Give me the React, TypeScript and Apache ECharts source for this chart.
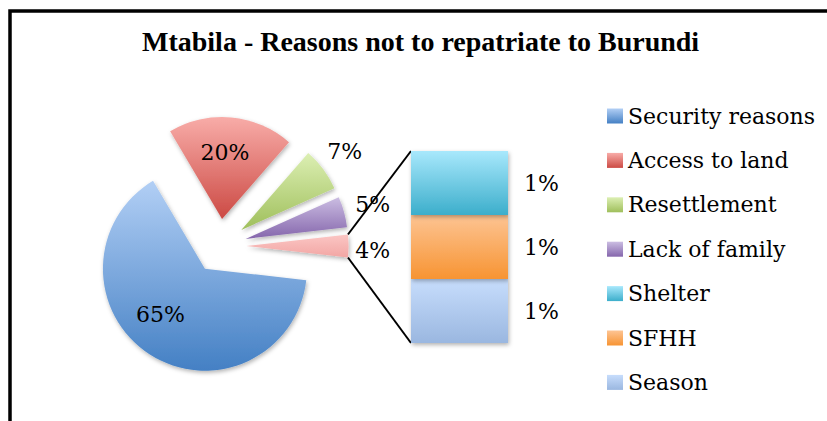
import React, { useEffect, useRef } from "react";
import * as echarts from "echarts";

// ---- data ----
const mainCategories = ["Security reasons", "Access to land", "Resettlement", "Lack of family"];
const mainValues = [64.7, 19.9, 6.9, 4.9];
const otherCategories = ["Shelter", "SFHH", "Season"];
const otherValues = [1.2, 1.2, 1.2];
const otherName = "Other";
const titleText = "Mtabila - Reasons not to repatriate to Burundi";

// ---- styles ----
const mainGradients: [string, string][] = [
  ["#b2cff5", "#4480c4"],
  ["#f8aca8", "#cc4a44"],
  ["#dcefb3", "#9fbf5b"],
  ["#cbbde2", "#8566ac"],
];
const otherSliceGradient: [string, string] = ["#fbc6c4", "#f2a6a4"];
const otherGradients: [string, string][] = [
  ["#a8e8fc", "#3caecb"],
  ["#fdc493", "#f79433"],
  ["#c7ddfc", "#9ab7e0"],
];
// label nudges for pie labels (dx, dy) in px
const pieLabelNudge: [number, number][] = [
  [-15, 1],
  [-2, -13],
  [60, -46],
  [75, -20],
  [72, 4],
];

const CX = 219.6;
const CY = 246;
const R = 102;
const OFFSET = 27;
const GRID_LEFT = 411;
const GRID_TOP = 151;
const GRID_W = 97;
const GRID_H = 192;
const SERIF = "DejaVu Serif";

const grad = (c: [string, string]) => ({
  type: "linear",
  x: 0,
  y: 0,
  x2: 0,
  y2: 1,
  colorStops: [
    { offset: 0, color: c[0] },
    { offset: 1, color: c[1] },
  ],
});

const shadow = {
  shadowBlur: 4,
  shadowOffsetX: 1,
  shadowOffsetY: 2,
  shadowColor: "rgba(0,0,0,0.3)",
};

export default function App() {
  const ref = useRef<HTMLDivElement>(null);
  useEffect(() => {
    if (!ref.current) return;
    const chart = echarts.init(ref.current, undefined, { renderer: "svg" });

    const otherTotal = otherValues.reduce((a, b) => a + b, 0);
    const total = mainValues.reduce((a, b) => a + b, 0) + otherTotal;
    const halfOtherDeg = (otherTotal / total) * 180;
    const halfRad = (halfOtherDeg * Math.PI) / 180;

    const pieData = [
      ...mainCategories.map((name, i) => ({
        name,
        value: mainValues[i],
        selected: true,
        itemStyle: { color: grad(mainGradients[i]), ...shadow },
      })),
      {
        name: otherName,
        value: otherTotal,
        selected: true,
        itemStyle: { color: grad(otherSliceGradient), ...shadow },
      },
    ];

    const order = [2, 1, 0]; // bottom to top: Season, SFHH, Shelter
    const barSeries = order.map((i) => ({
      type: "bar",
      name: otherCategories[i],
      stack: "other",
      barWidth: "100%",
      data: [otherValues[i]],
      itemStyle: { color: grad(otherGradients[i]), ...shadow },
      label: {
        show: true,
        position: "right",
        distance: 16,
        formatter: (p: any) => Math.round(p.value) + "%",
        fontFamily: SERIF,
        fontSize: 22,
        color: "#000",
      },
    }));

    const ex = CX + OFFSET + R * Math.cos(halfRad);
    const eyTop = CY - R * Math.sin(halfRad);
    const eyBot = CY + R * Math.sin(halfRad);

    chart.setOption({
      animation: false,
      backgroundColor: "#fff",
      title: {
        text: titleText,
        left: 142,
        top: 27,
        padding: 0,
        textStyle: {
          fontFamily: "Liberation Serif",
          fontWeight: "bold",
          fontSize: 28,
          color: "#000",
        },
      },
      legend: {
        orient: "vertical",
        left: 607,
        top: 105,
        itemWidth: 16,
        itemHeight: 15,
        itemGap: 22.4,
        padding: 0,
        selectedMode: false,
        icon: "rect",
        data: [...mainCategories, ...otherCategories],
        textStyle: { fontFamily: SERIF, fontSize: 22, color: "#000", lineHeight: 22 },
      },
      grid: { left: GRID_LEFT, top: GRID_TOP, width: GRID_W, height: GRID_H },
      xAxis: { type: "category", data: [""], show: false },
      yAxis: { type: "value", min: 0, max: otherTotal, show: false },
      series: [
        {
          type: "pie",
          center: [CX, CY],
          radius: R,
          startAngle: 360 - halfOtherDeg,
          clockwise: true,
          selectedMode: "multiple",
          selectedOffset: OFFSET,
          avoidLabelOverlap: false,
          data: pieData,
          label: {
            show: true,
            position: "inside",
            formatter: (p: any) => Math.round(p.value) + "%",
            fontFamily: SERIF,
            fontSize: 22,
            color: "#000",
          },
          labelLine: { show: false },
          labelLayout: (p: any) => ({
            dx: pieLabelNudge[p.dataIndex][0],
            dy: pieLabelNudge[p.dataIndex][1],
          }),
          emphasis: { disabled: true },
        },
        ...barSeries,
      ],
      graphic: [
        {
          type: "rect",
          shape: { x: 10, y: 11, width: 900, height: 500 },
          style: { fill: "none", stroke: "#000", lineWidth: 3.5 },
          silent: true,
        },
        {
          type: "line",
          shape: { x1: ex, y1: eyTop, x2: GRID_LEFT, y2: GRID_TOP },
          style: { stroke: "#000", lineWidth: 2 },
        },
        {
          type: "line",
          shape: { x1: ex, y1: eyBot, x2: GRID_LEFT, y2: GRID_TOP + GRID_H },
          style: { stroke: "#000", lineWidth: 2 },
        },
      ],
    });
    return () => chart.dispose();
  }, []);
  return (
    <div
      ref={ref}
      style={{ position: "absolute", left: 0, top: 0, width: 827, height: 421, background: "#fff" }}
    />
  );
}
